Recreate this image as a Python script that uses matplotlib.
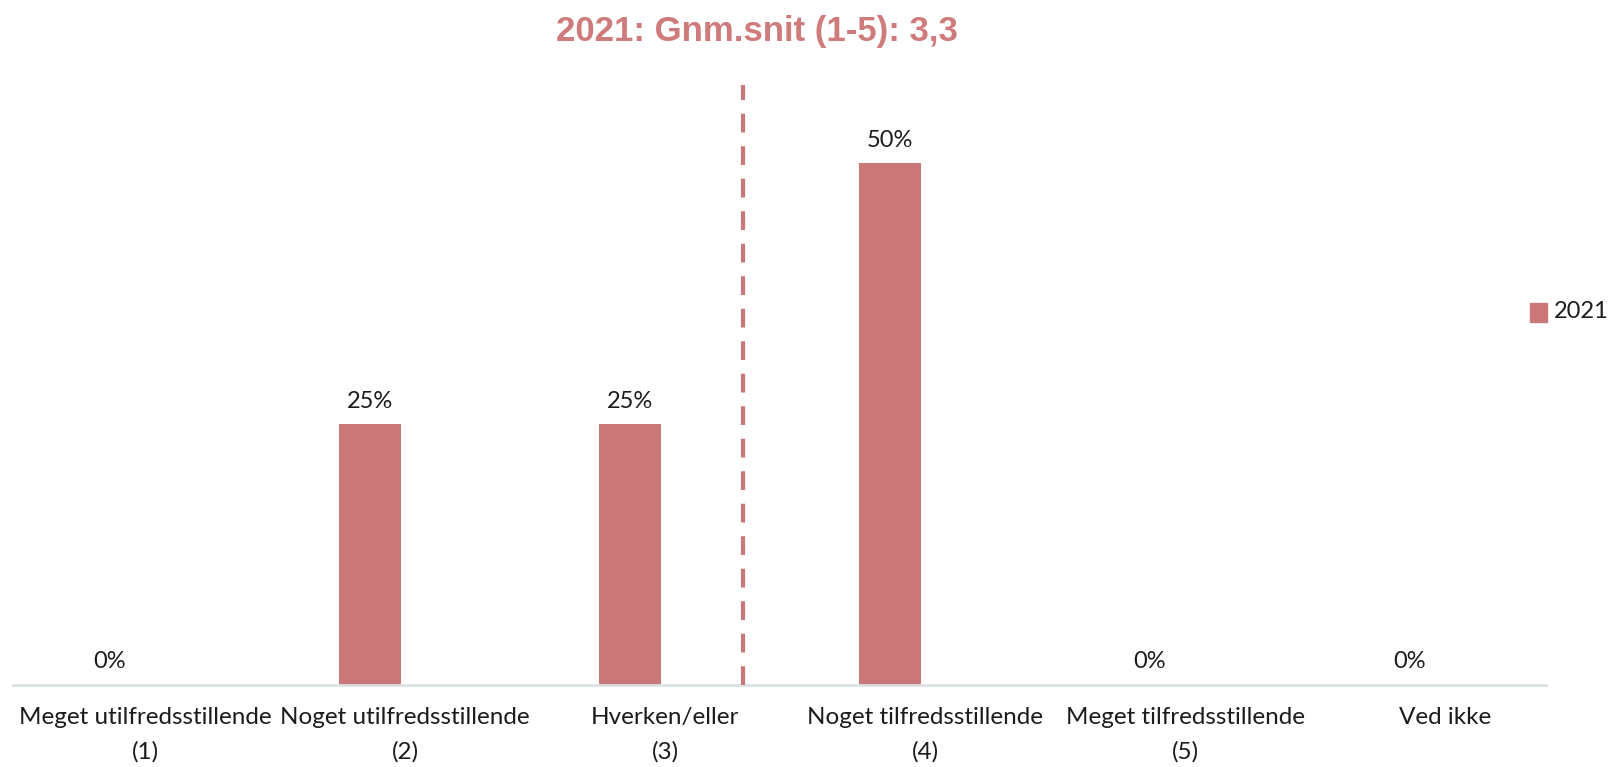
import matplotlib
matplotlib.use("Agg")
import matplotlib.pyplot as plt
from matplotlib.patches import Rectangle
import numpy as np

categories = ["Meget utilfredsstillende\n(1)", "Noget utilfredsstillende\n(2)",
              "Hverken/eller\n(3)", "Noget tilfredsstillende\n(4)",
              "Meget tilfredsstillende\n(5)", "Ved ikke"]
values_2021 = [0, 25, 25, 50, 0, 0]
series_name = "2021"
mean_score = 3.3
title = "2021: Gnm.snit (1-5): 3,3"

BAR = "#C97777"
TITLE_C = "#CF7B7B"
TXT = "#1c1c1c"
FONT = "Lato"

W, H = 1614, 767
fig = plt.figure(figsize=(W / 100, H / 100), dpi=100)
left, right, bottom_px, top_px = 13, 1546, 685, 85
ax = fig.add_axes([left / W, (H - bottom_px) / H, (right - left) / W, (bottom_px - top_px) / H])

x = np.arange(len(categories))
offset = -0.135
bars = ax.bar(x + offset, values_2021, width=0.235, color=BAR, zorder=2)
for xi, v in zip(x, values_2021):
    ax.annotate(f"{v}%", (xi + offset, v), xytext=(0, 9), textcoords="offset points",
                ha="center", va="bottom", fontsize=17, color=TXT, family=FONT)

ymax = 57.5
ax.set_ylim(0, ymax)
ax.set_xlim(-0.508, 5.388)

# mean line (category 1 at index 0)
ax.plot([mean_score - 1, mean_score - 1], [0, ymax], color=BAR, lw=3,
        dashes=(4.5, 3.3), zorder=3, clip_on=False)

ax.set_xticks(x)
ax.set_xticklabels(categories, fontsize=17.5, color=TXT, family=FONT, linespacing=1.75)
ax.tick_params(axis="x", length=0, pad=16)
ax.set_yticks([])
for s in ["top", "right", "left"]:
    ax.spines[s].set_visible(False)
ax.spines["bottom"].set_color("#D9E2E2")
ax.spines["bottom"].set_linewidth(2)

fig.text(757 / W, 1 - 32 / H, title, ha="center", va="center", fontsize=25,
         fontweight="bold", color=TITLE_C, family="Liberation Sans")

# legend
fig.patches.append(Rectangle((1530 / W, 1 - 322 / H), 17 / W, 19 / H,
                             transform=fig.transFigure, color=BAR))
fig.text(1554 / W, 1 - 312 / H, series_name, ha="left", va="center", fontsize=17,
         color=TXT, family=FONT)

fig.savefig("out.png", dpi=100)
